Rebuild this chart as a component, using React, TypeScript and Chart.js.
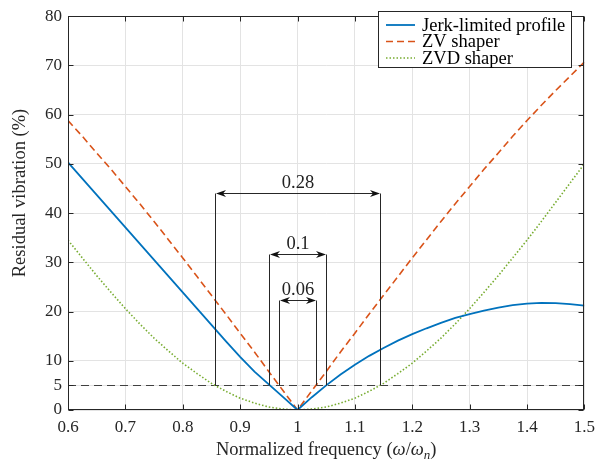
import React, { useEffect, useRef } from 'react';
import { Chart, registerables } from 'chart.js';

Chart.register(...registerables);

// ---- data ----
const FREQ = [
  0.6, 0.625, 0.65, 0.675, 0.7, 0.725, 0.75, 0.775, 0.8, 0.825, 0.85, 0.875, 0.9, 0.925, 0.95, 0.975,
  1.0, 1.025, 1.05, 1.075, 1.1, 1.125, 1.15, 1.175, 1.2, 1.225, 1.25, 1.275, 1.3, 1.325, 1.35, 1.375,
  1.4, 1.425, 1.45, 1.475, 1.5,
];
const JERK = [
  50.3, 47.0, 43.7, 40.4, 37.1, 33.8, 30.5, 27.2, 23.9, 20.6, 17.3, 14.0, 10.8, 7.8, 5.2, 2.6,
  0, 2.6, 5.0, 7.2, 9.2, 11.0, 12.6, 14.1, 15.4, 16.6, 17.7, 18.7, 19.5, 20.2, 20.8, 21.3,
  21.6, 21.75, 21.7, 21.5, 21.2,
];
const ZV = [
  58.8, 55.6, 52.2, 48.9, 45.4, 41.9, 38.3, 34.6, 30.9, 27.1, 23.3, 19.5, 15.6, 11.8, 7.8, 3.9,
  0, 3.9, 7.8, 11.8, 15.6, 19.5, 23.3, 27.1, 30.9, 34.6, 38.3, 41.9, 45.4, 48.9, 52.2, 55.6,
  58.8, 61.9, 64.9, 67.8, 70.7,
];
const ZVD = [
  34.5, 30.9, 27.3, 23.9, 20.6, 17.5, 14.6, 12.0, 9.5, 7.4, 5.4, 3.8, 2.4, 1.4, 0.6, 0.2,
  0, 0.2, 0.6, 1.4, 2.4, 3.8, 5.4, 7.4, 9.5, 12.0, 14.6, 17.5, 20.6, 23.9, 27.3, 30.9,
  34.5, 38.3, 42.2, 46.1, 50.0,
];
const SERIES_NAMES = ['Jerk-limited profile', 'ZV shaper', 'ZVD shaper'];
const X_TICKS = [0.6, 0.7, 0.8, 0.9, 1.0, 1.1, 1.2, 1.3, 1.4, 1.5];
const X_TICK_LABELS = ['0.6', '0.7', '0.8', '0.9', '1', '1.1', '1.2', '1.3', '1.4', '1.5'];
const Y_TICKS = [0, 5, 10, 20, 30, 40, 50, 60, 70, 80];
const Y_TICK_LABELS = ['0', '5', '10', '20', '30', '40', '50', '60', '70', '80'];
const THRESHOLD = 5;
const SPAN_LEFT = [0.857, 0.951, 0.968];
const SPAN_RIGHT = [1.1435, 1.049, 1.032];
const SPAN_LEVEL = [44, 31.7, 22.3];
const SPAN_LABELS = ['0.28', '0.1', '0.06'];

const COLORS = ['#0072BD', '#D95319', '#77AC30'];
const FONT = "'Liberation Serif', 'DejaVu Serif', serif";
const AXIS_COLOR = '#262626';
const TEXT_SIZE = 18.5;

function drawArrowHead(ctx: CanvasRenderingContext2D, x: number, y: number, dir: number) {
  const L = 10, W = 3.6, N = 7;
  ctx.beginPath();
  ctx.moveTo(x, y);
  ctx.lineTo(x - dir * L, y - W);
  ctx.lineTo(x - dir * N, y);
  ctx.lineTo(x - dir * L, y + W);
  ctx.closePath();
  ctx.fill();
}

const overlayPlugin = {
  id: 'overlay',
  beforeDatasetsDraw(chart: any) {
    const { ctx, chartArea, scales } = chart;
    const y = Math.round(scales.y.getPixelForValue(THRESHOLD)) + 0.5;
    ctx.save();
    ctx.strokeStyle = '#404040';
    ctx.lineWidth = 1.2;
    ctx.setLineDash([8, 5]);
    ctx.beginPath();
    ctx.moveTo(chartArea.left, y);
    ctx.lineTo(chartArea.right, y);
    ctx.stroke();
    ctx.restore();
  },
  afterDatasetsDraw(chart: any) {
    const { ctx, chartArea, scales } = chart;
    const xs = scales.x, ys = scales.y;
    ctx.save();
    ctx.strokeStyle = '#262626';
    ctx.fillStyle = '#111';
    ctx.lineWidth = 1;
    ctx.setLineDash([]);
    const yBase = ys.getPixelForValue(THRESHOLD);
    for (let i = 0; i < SPAN_LABELS.length; i++) {
      const xl = Math.round(xs.getPixelForValue(SPAN_LEFT[i])) + 0.5;
      const xr = Math.round(xs.getPixelForValue(SPAN_RIGHT[i])) + 0.5;
      const ya = Math.round(ys.getPixelForValue(SPAN_LEVEL[i])) + 0.5;
      ctx.beginPath();
      ctx.moveTo(xl, yBase);
      ctx.lineTo(xl, ya);
      ctx.moveTo(xr, yBase);
      ctx.lineTo(xr, ya);
      ctx.moveTo(xl + 6, ya);
      ctx.lineTo(xr - 6, ya);
      ctx.stroke();
      ctx.fillStyle = '#111';
      drawArrowHead(ctx, xl + 0.5, ya, -1);
      drawArrowHead(ctx, xr - 0.5, ya, 1);
      ctx.font = `${TEXT_SIZE}px ${FONT}`;
      ctx.textAlign = 'center';
      ctx.textBaseline = 'alphabetic';
      ctx.fillStyle = '#222';
      ctx.fillText(SPAN_LABELS[i], (xl + xr) / 2, ya - 6);
    }
    // box
    ctx.strokeStyle = AXIS_COLOR;
    ctx.lineWidth = 1;
    const L = Math.round(chartArea.left) + 0.5, R = Math.round(chartArea.right) - 0.5;
    const T = Math.round(chartArea.top) + 0.5, B = Math.round(chartArea.bottom) - 0.5;
    ctx.strokeRect(L, T, R - L, B - T);
    const TL = 5;
    ctx.beginPath();
    for (const v of X_TICKS) {
      const x = Math.round(xs.getPixelForValue(v)) + 0.5;
      ctx.moveTo(x, B); ctx.lineTo(x, B - TL);
      ctx.moveTo(x, T); ctx.lineTo(x, T + TL);
    }
    for (const v of Y_TICKS) {
      const y = Math.round(ys.getPixelForValue(v)) + 0.5;
      ctx.moveTo(L, y); ctx.lineTo(L + TL, y);
      ctx.moveTo(R, y); ctx.lineTo(R - TL, y);
    }
    ctx.stroke();
    ctx.restore();
  },
  afterDraw(chart: any) {
    const { ctx, chartArea } = chart;
    ctx.save();
    ctx.fillStyle = AXIS_COLOR;
    const parts = [
      { t: 'Normalized frequency (', f: `${TEXT_SIZE}px ${FONT}`, dy: 0 },
      { t: 'ω', f: `italic ${TEXT_SIZE}px ${FONT}`, dy: 0 },
      { t: '/', f: `${TEXT_SIZE}px ${FONT}`, dy: 0 },
      { t: 'ω', f: `italic ${TEXT_SIZE}px ${FONT}`, dy: 0 },
      { t: 'n', f: `italic 13px ${FONT}`, dy: 4 },
      { t: ')', f: `${TEXT_SIZE}px ${FONT}`, dy: 0 },
    ];
    let total = 0;
    for (const p of parts) { ctx.font = p.f; total += ctx.measureText(p.t).width; }
    let x = (chartArea.left + chartArea.right) / 2 - total / 2;
    ctx.textAlign = 'left';
    ctx.textBaseline = 'alphabetic';
    for (const p of parts) {
      ctx.font = p.f;
      ctx.fillText(p.t, x, 454.5 + p.dy);
      x += ctx.measureText(p.t).width;
    }
    ctx.save();
    ctx.translate(25, 193);
    ctx.rotate(-Math.PI / 2);
    ctx.font = `${TEXT_SIZE}px ${FONT}`;
    ctx.textAlign = 'center';
    ctx.fillText('Residual vibration (%)', 0, 0);
    ctx.restore();
    // legend
    const bx = 378.5, by = 11.5, bw = 193, bh = 56;
    ctx.fillStyle = '#fff';
    ctx.fillRect(bx, by, bw, bh);
    ctx.strokeStyle = AXIS_COLOR;
    ctx.lineWidth = 1;
    ctx.setLineDash([]);
    ctx.strokeRect(bx, by, bw, bh);
    const rowsY = [25, 41.5, 58];
    const dashes = [[], [7, 4], [1.5, 2]];
    for (let i = 0; i < 3; i++) {
      ctx.strokeStyle = COLORS[i];
      ctx.lineWidth = i === 0 ? 1.8 : 1.6;
      ctx.setLineDash(dashes[i]);
      ctx.beginPath();
      ctx.moveTo(386, rowsY[i]);
      ctx.lineTo(415, rowsY[i]);
      ctx.stroke();
      ctx.setLineDash([]);
      ctx.fillStyle = '#000';
      ctx.font = `${TEXT_SIZE}px ${FONT}`;
      ctx.textBaseline = 'middle';
      ctx.fillText(SERIES_NAMES[i], 422, rowsY[i] + 1);
    }
    ctx.restore();
  },
};

export default function App() {
  const ref = useRef<HTMLCanvasElement | null>(null);
  useEffect(() => {
    document.body.style.margin = '0';
    const canvas = ref.current!;
    const mk = (arr: number[]) => FREQ.map((f, i) => ({ x: f, y: arr[i] }));
    const chart = new Chart(canvas, {
      type: 'line',
      data: {
        datasets: [
          { label: SERIES_NAMES[0], data: mk(JERK), borderColor: COLORS[0], borderWidth: 1.8, pointRadius: 0, tension: 0, fill: false },
          { label: SERIES_NAMES[1], data: mk(ZV), borderColor: COLORS[1], borderWidth: 1.6, borderDash: [7, 4], pointRadius: 0, tension: 0, fill: false },
          { label: SERIES_NAMES[2], data: mk(ZVD), borderColor: COLORS[2], borderWidth: 1.6, borderDash: [1.5, 2], pointRadius: 0, tension: 0, fill: false },
        ],
      },
      options: {
        responsive: false,
        animation: false,
        devicePixelRatio: 1,
        layout: { padding: { top: 10, right: 14, left: 0, bottom: 0 } },
        plugins: { legend: { display: false }, tooltip: { enabled: false }, title: { display: false } },
        scales: {
          x: {
            type: 'linear',
            min: 0.6,
            max: 1.5,
            afterBuildTicks: (s: any) => { s.ticks = X_TICKS.map((v) => ({ value: v })); },
            afterFit: (s: any) => { s.height = 54; },
            grid: { color: '#e3e3e3', lineWidth: 1, drawTicks: false },
            border: { display: false },
            ticks: {
              autoSkip: false,
              maxRotation: 0,
              padding: 7,
              color: AXIS_COLOR,
              font: { family: FONT, size: 17 },
              callback: (_v: any, i: number) => X_TICK_LABELS[i],
            },
          },
          y: {
            type: 'linear',
            min: 0,
            max: 80,
            afterBuildTicks: (s: any) => { s.ticks = Y_TICKS.map((v) => ({ value: v })); },
            afterFit: (s: any) => { s.width = 68; },
            grid: { color: '#e3e3e3', lineWidth: 1, drawTicks: false },
            border: { display: false },
            ticks: {
              autoSkip: false,
              padding: 6,
              color: AXIS_COLOR,
              font: { family: FONT, size: 17 },
              callback: (_v: any, i: number) => Y_TICK_LABELS[i],
            },
          },
        },
      },
      plugins: [overlayPlugin],
    } as any);
    return () => chart.destroy();
  }, []);
  return (
    <div style={{ width: 602, height: 464 }}>
      <canvas ref={ref} width={602} height={464} style={{ display: 'block', width: 602, height: 464 }} />
    </div>
  );
}
